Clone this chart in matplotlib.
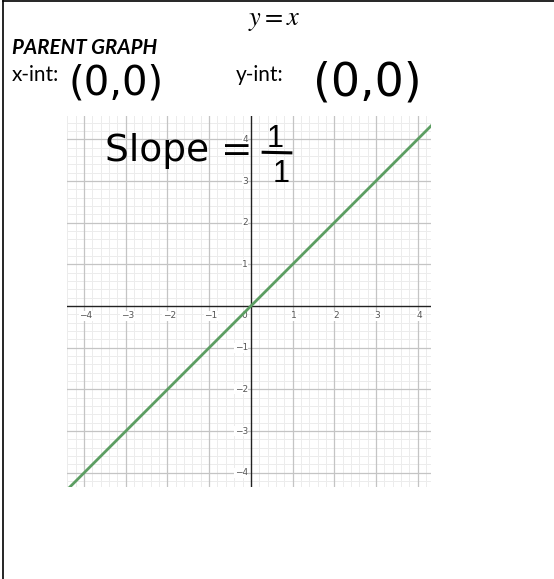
import numpy as np
import matplotlib.pyplot as plt
from matplotlib.lines import Line2D

# line y = x and the integer ticks on both axes
line_x = [-4.5, 4.5]
line_y = [-4.5, 4.5]
ticks = [-4, -3, -2, -1, 1, 2, 3, 4]

plt.rcParams['mathtext.fontset'] = 'stix'

fig = plt.figure(figsize=(5.54, 5.79), dpi=100)

# page border (top and left)
fig.add_artist(Line2D([0.005, 1.0], [0.998, 0.998], color='black', lw=1.2))
fig.add_artist(Line2D([0.0055, 0.0055], [0.0, 0.998], color='black', lw=1.2))

ax = fig.add_axes([0.1209, 0.1589, 0.657, 0.6408])
ax.set_xlim(-4.41, 4.32)
ax.set_ylim(-4.34, 4.56)

# graph paper grid
minor = np.arange(-4.4, 4.6, 0.2)
for v in minor:
    ax.axvline(v, color='#ececec', lw=0.7, zorder=0)
    ax.axhline(v, color='#ececec', lw=0.7, zorder=0)
for v in ticks:
    ax.axvline(v, color='#c4c4c4', lw=0.9, zorder=1)
    ax.axhline(v, color='#c4c4c4', lw=0.9, zorder=1)

ax.axhline(0, color='#222222', lw=1.0, zorder=2)
ax.axvline(0, color='#222222', lw=1.0, zorder=2)

# tick labels, drawn along the axes
lbl = dict(fontsize=6.5, color='#555555', zorder=3,
           bbox=dict(facecolor='white', edgecolor='none', pad=0.3))
for t in ticks:
    ax.text(t + 0.04, -0.12, str(t).replace('-', '\u2212'), ha='center', va='top', **lbl)
    ax.text(-0.07, t, str(t).replace('-', '\u2212'), ha='right', va='center', **lbl)
ax.text(-0.1, -0.12, '0', ha='right', va='top', **lbl)

ax.plot(line_x, line_y, color='#5c9e62', lw=2.0, zorder=4)

ax.set_xticks([])
ax.set_yticks([])
for s in ax.spines.values():
    s.set_visible(False)

# header text
fig.text(0.494, 0.965, r'$y = x$', fontsize=19, ha='center', va='center')
fig.text(0.022, 0.917, 'PARENT GRAPH', fontsize=14.8, fontweight='bold',
         fontstyle='italic', family='Lato', va='center')
fig.text(0.022, 0.870, 'x-int:', fontsize=15, family='Lato', va='center')
fig.text(0.426, 0.870, 'y-int:', fontsize=15, family='Lato', va='center')

# handwritten answers
fig.text(0.123, 0.856, '(0,0)', fontsize=29, va='center')
fig.text(0.565, 0.857, '(0,0)', fontsize=33, va='center')
fig.text(0.19, 0.74, 'Slope =', fontsize=27, va='center')
fig.text(0.496, 0.760, '1', fontsize=22, ha='center', va='center', family='Liberation Sans')
fig.add_artist(Line2D([0.475, 0.525], [0.737, 0.736], color='black', lw=2.2))
fig.text(0.507, 0.699, '1', fontsize=22, ha='center', va='center', family='Liberation Sans')

fig.savefig('out.png', dpi=100)
